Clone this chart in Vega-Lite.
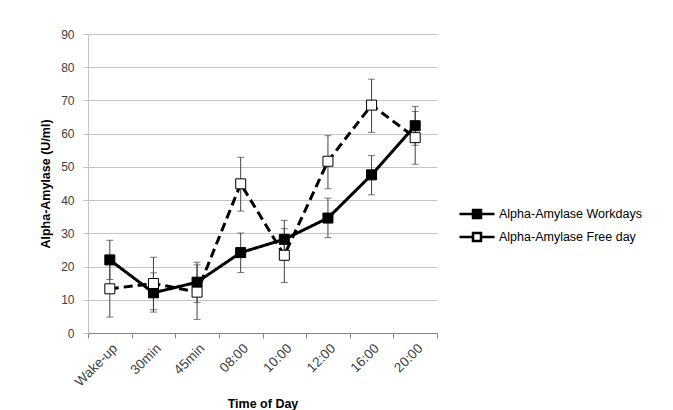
{
  "$schema": "https://vega.github.io/schema/vega-lite/v6.json",
  "width": 349,
  "height": 299,
  "autosize": {"type": "none"},
  "padding": {"left": 88, "top": 34, "right": 236, "bottom": 77},
  "background": "white",
  "config": {"font": "Liberation Sans", "view": {"stroke": null}},
  "data": {
    "values": [
      {"time": "Wake-up", "series": "Alpha-Amylase Workdays", "value": 22.0, "lo": 16.1, "hi": 27.9},
      {"time": "30min", "series": "Alpha-Amylase Workdays", "value": 12.1, "lo": 6.3, "hi": 18.1},
      {"time": "45min", "series": "Alpha-Amylase Workdays", "value": 15.3, "lo": 9.2, "hi": 21.3},
      {"time": "08:00", "series": "Alpha-Amylase Workdays", "value": 24.2, "lo": 18.2, "hi": 30.1},
      {"time": "10:00", "series": "Alpha-Amylase Workdays", "value": 28.2, "lo": 22.6, "hi": 33.9},
      {"time": "12:00", "series": "Alpha-Amylase Workdays", "value": 34.6, "lo": 28.7, "hi": 40.6},
      {"time": "16:00", "series": "Alpha-Amylase Workdays", "value": 47.6, "lo": 41.6, "hi": 53.4},
      {"time": "20:00", "series": "Alpha-Amylase Workdays", "value": 62.4, "lo": 56.5, "hi": 68.2},
      {"time": "Wake-up", "series": "Alpha-Amylase Free day", "value": 13.3, "lo": 4.8, "hi": 21.8},
      {"time": "30min", "series": "Alpha-Amylase Free day", "value": 14.9, "lo": 7.0, "hi": 22.8},
      {"time": "45min", "series": "Alpha-Amylase Free day", "value": 12.3, "lo": 4.1, "hi": 20.5},
      {"time": "08:00", "series": "Alpha-Amylase Free day", "value": 44.9, "lo": 36.7, "hi": 52.9},
      {"time": "10:00", "series": "Alpha-Amylase Free day", "value": 23.4, "lo": 15.2, "hi": 31.4},
      {"time": "12:00", "series": "Alpha-Amylase Free day", "value": 51.7, "lo": 43.4, "hi": 59.4},
      {"time": "16:00", "series": "Alpha-Amylase Free day", "value": 68.6, "lo": 60.4, "hi": 76.4},
      {"time": "20:00", "series": "Alpha-Amylase Free day", "value": 58.8, "lo": 50.8, "hi": 66.7}
    ]
  },
  "encoding": {
    "x": {
      "field": "time",
      "type": "nominal",
      "sort": ["Wake-up", "30min", "45min", "08:00", "10:00", "12:00", "16:00", "20:00"],
      "scale": {"paddingInner": 0, "paddingOuter": 0},
      "axis": {
        "title": "Time of Day",
        "titleFontWeight": "bold",
        "titleFontSize": 12.5,
        "titleColor": "black",
        "titleBaseline": "alphabetic",
        "titleY": 74,
        "labelAngle": -45,
        "labelFontSize": 13.5,
        "labelColor": "#404040",
        "labelPadding": 3,
        "tickBand": "extent",
        "tickSize": 5,
        "tickColor": "#868686",
        "domainColor": "#868686",
        "grid": false
      }
    }
  },
  "layer": [
    {
      "mark": {"type": "rule", "color": "#404040", "strokeWidth": 1},
      "encoding": {
        "y": {
          "field": "lo",
          "type": "quantitative",
          "scale": {"domain": [0, 90], "nice": false},
          "axis": {
            "title": "Alpha-Amylase (U/ml)",
            "titleFontWeight": "bold",
            "titleFontSize": 12.5,
            "titleColor": "black",
            "titlePadding": 8,
            "values": [0, 10, 20, 30, 40, 50, 60, 70, 80, 90],
            "labelOverlap": false,
            "labelFontSize": 12,
            "labelColor": "#404040",
            "labelPadding": 9,
            "tickSize": 5,
            "tickColor": "#c4c4c4",
            "gridColor": "#c4c4c4",
            "domainColor": "#c4c4c4",
            "grid": true
          }
        },
        "y2": {"field": "hi"}
      }
    },
    {
      "mark": {"type": "tick", "color": "#404040", "thickness": 1, "size": 7},
      "encoding": {
        "y": {
          "field": "lo",
          "type": "quantitative",
          "axis": {
            "title": "Alpha-Amylase (U/ml)",
            "titleFontWeight": "bold",
            "titleFontSize": 12.5,
            "titleColor": "black",
            "titlePadding": 8,
            "values": [0, 10, 20, 30, 40, 50, 60, 70, 80, 90],
            "labelOverlap": false,
            "labelFontSize": 12,
            "labelColor": "#404040",
            "labelPadding": 9,
            "tickSize": 5,
            "tickColor": "#c4c4c4",
            "gridColor": "#c4c4c4",
            "domainColor": "#c4c4c4",
            "grid": true
          }
        }
      }
    },
    {
      "mark": {"type": "tick", "color": "#404040", "thickness": 1, "size": 7},
      "encoding": {
        "y": {
          "field": "hi",
          "type": "quantitative",
          "axis": {
            "title": "Alpha-Amylase (U/ml)",
            "titleFontWeight": "bold",
            "titleFontSize": 12.5,
            "titleColor": "black",
            "titlePadding": 8,
            "values": [0, 10, 20, 30, 40, 50, 60, 70, 80, 90],
            "labelOverlap": false,
            "labelFontSize": 12,
            "labelColor": "#404040",
            "labelPadding": 9,
            "tickSize": 5,
            "tickColor": "#c4c4c4",
            "gridColor": "#c4c4c4",
            "domainColor": "#c4c4c4",
            "grid": true
          }
        }
      }
    },
    {
      "mark": {"type": "line", "color": "black", "strokeWidth": 3},
      "encoding": {
        "y": {
          "field": "value",
          "type": "quantitative",
          "axis": {
            "title": "Alpha-Amylase (U/ml)",
            "titleFontWeight": "bold",
            "titleFontSize": 12.5,
            "titleColor": "black",
            "titlePadding": 8,
            "values": [0, 10, 20, 30, 40, 50, 60, 70, 80, 90],
            "labelOverlap": false,
            "labelFontSize": 12,
            "labelColor": "#404040",
            "labelPadding": 9,
            "tickSize": 5,
            "tickColor": "#c4c4c4",
            "gridColor": "#c4c4c4",
            "domainColor": "#c4c4c4",
            "grid": true
          }
        },
        "strokeDash": {
          "field": "series",
          "type": "nominal",
          "scale": {"domain": ["Alpha-Amylase Free day", "Alpha-Amylase Workdays"], "range": [[9, 5], [1, 0]]},
          "legend": null
        }
      }
    },
    {
      "mark": {"type": "point", "shape": "square", "filled": true, "size": 100, "stroke": "black", "strokeWidth": 1, "opacity": 1},
      "encoding": {
        "y": {
          "field": "value",
          "type": "quantitative",
          "axis": {
            "title": "Alpha-Amylase (U/ml)",
            "titleFontWeight": "bold",
            "titleFontSize": 12.5,
            "titleColor": "black",
            "titlePadding": 8,
            "values": [0, 10, 20, 30, 40, 50, 60, 70, 80, 90],
            "labelOverlap": false,
            "labelFontSize": 12,
            "labelColor": "#404040",
            "labelPadding": 9,
            "tickSize": 5,
            "tickColor": "#c4c4c4",
            "gridColor": "#c4c4c4",
            "domainColor": "#c4c4c4",
            "grid": true
          }
        },
        "fill": {
          "field": "series",
          "type": "nominal",
          "scale": {"domain": ["Alpha-Amylase Workdays", "Alpha-Amylase Free day"], "range": ["black", "white"]},
          "legend": {
            "title": null,
            "orient": "none",
            "legendX": 375,
            "legendY": 166,
            "symbolType": "M-1.4,0H-0.32M0.32,0H1.4M-0.32,-0.32H0.32V0.32H-0.32Z",
            "symbolSize": 625,
            "symbolStrokeColor": "black",
            "symbolStrokeWidth": 2.5,
            "symbolDash": [],
            "labelOffset": 8,
            "labelFontSize": 12.5,
            "labelColor": "black",
            "rowPadding": 0
          }
        }
      }
    }
  ]
}
